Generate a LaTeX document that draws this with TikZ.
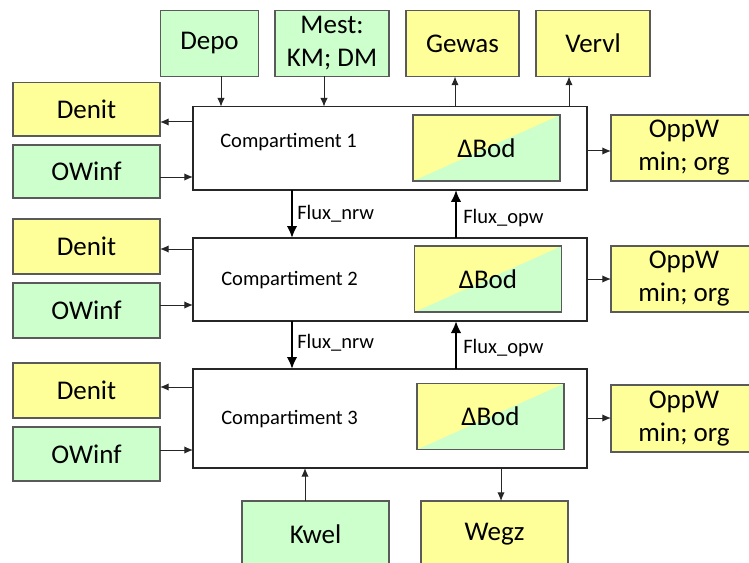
\documentclass[tikz,border=0pt]{standalone}
\usepackage{fontspec}
\setmainfont{Carlito}
\usetikzlibrary{arrows.meta}
\definecolor{yel}{HTML}{FFFF99}
\definecolor{grn}{HTML}{CCFFCC}
\definecolor{edge}{HTML}{5A5A5A}
\newcommand\bigf{\fontsize{20.25}{24.75}\selectfont}
\newcommand\smallf{\fontsize{15.4}{18}\selectfont}
\begin{document}
\begin{tikzpicture}[x=0.75pt,y=-0.75pt,
  box/.style 2 args={draw=edge, line width=0.9pt, inner sep=0pt, outer sep=0pt,
    minimum width=#1*0.75pt, minimum height=#2*0.75pt, align=center, font=\bigf},
  ybox/.style 2 args={box={#1}{#2}, fill=yel},
  gbox/.style 2 args={box={#1}{#2}, fill=grn},
  compbox/.style={draw=black!85, line width=0.9pt, fill=white, inner sep=0pt, outer sep=0pt,
    minimum width=394*0.75pt, minimum height=#1*0.75pt},
  bod/.style={box={147}{66}, fill=grn, path picture={\fill[yel] (path picture bounding box.south west) -- (path picture bounding box.north west) -- (path picture bounding box.north east) -- cycle;}},
  arr/.style={-{Latex[length=6.5pt,width=5.5pt]}, line width=0.75pt, draw=black!85},
  fluxarr/.style={-{Latex[length=9pt,width=8pt]}, line width=2.2pt, draw=black},
  lbl/.style={font=\smallf, inner sep=0pt, anchor=base west}
]
\useasboundingbox (0,0) rectangle (749,563);
\clip (0,0) rectangle (749,563);

% compartments
\node[compbox=83.3] (C1) at (390,148.3) {};
\node[compbox=83] (C2) at (390,279.5) {};
\node[compbox=99] (C3) at (390,418.5) {};
\node[lbl] (L1) at (220,148) {Compartiment 1};
\node[lbl] (L2) at (221,285) {Compartiment 2};
\node[lbl] (L3) at (221,424) {Compartiment 3};

% Delta Bod
\node[bod] (B1) at (486.5,148) {ΔBod};
\node[bod] (B2) at (488,279) {ΔBod};
\node[bod] (B3) at (490.5,416.5) {ΔBod};

% top boxes
\node[gbox={98}{66}] (Depo) at (209.5,43.5) {Depo};
\node[gbox={114}{66}] (Mest) at (332,43.5) {Mest:\\KM; DM};
\node[ybox={113}{66}] (Gewas) at (462.5,43.5) {Gewas};
\node[ybox={114}{66}] (Vervl) at (593,43.5) {Vervl};

% left boxes
\node[ybox={147}{53.5}] (D1) at (86.5,109.3) {Denit};
\node[gbox={147}{53}] (O1) at (86.5,171.5) {OWinf};
\node[ybox={147}{55}] (D2) at (86.5,246.5) {Denit};
\node[gbox={147}{55}] (O2) at (86.5,310.5) {OWinf};
\node[ybox={147}{55}] (D3) at (86.5,390.5) {Denit};
\node[gbox={147}{54}] (O3) at (86.5,454) {OWinf};

% right boxes
\node[ybox={146}{66}] (P1) at (684,148) {OppW\\min; org};
\node[ybox={146}{66}] (P2) at (684,279) {OppW\\min; org};
\node[ybox={146}{67}] (P3) at (684,418.5) {OppW\\min; org};

% bottom boxes
\node[gbox={147}{66}] (Kwel) at (315.5,534) {Kwel};
\node[ybox={147}{66}] (Wegz) at (494.5,534) {Wegz};

% top arrows
\draw[arr] (Depo.south -| 221,0) -- (C1.north -| 221,0);
\draw[arr] (Mest.south -| 324,0) -- (C1.north -| 324,0);
\draw[arr] (C1.north -| 455,0) -- (Gewas.south -| 455,0);
\draw[arr] (C1.north -| 569,0) -- (Vervl.south -| 569,0);

% left arrows
\draw[arr] (C1.west |- 0,122) -- (D1.east |- 0,122);
\draw[arr] (O1.east |- 0,177) -- (C1.west |- 0,177);
\draw[arr] (C2.west |- 0,249) -- (D2.east |- 0,249);
\draw[arr] (O2.east |- 0,305) -- (C2.west |- 0,305);
\draw[arr] (C3.west |- 0,387) -- (D3.east |- 0,387);
\draw[arr] (O3.east |- 0,450) -- (C3.west |- 0,450);

% right arrows
\draw[arr] (C1.east |- 0,151) -- (P1.west |- 0,151);
\draw[arr] (C2.east |- 0,279) -- (P2.west |- 0,279);
\draw[arr] (C3.east |- 0,418) -- (P3.west |- 0,418);

% bottom arrows
\draw[arr] (Kwel.north -| 305,0) -- (C3.south -| 305,0);
\draw[arr] (C3.south -| 501,0) -- (Wegz.north -| 501,0);

% fluxes
\draw[fluxarr] (C1.south -| 292,0) -- (C2.north -| 292,0);
\draw[fluxarr] (C2.north -| 456,0) -- (C1.south -| 456,0);
\draw[fluxarr] (C2.south -| 292,0) -- (C3.north -| 292,0);
\draw[fluxarr] (C3.north -| 456,0) -- (C2.south -| 456,0);
\node[lbl] (FN1) at (297,219) {Flux\_nrw};
\node[lbl] (FO1) at (463,223) {Flux\_opw};
\node[lbl] (FN2) at (297,348) {Flux\_nrw};
\node[lbl] (FO2) at (463,353) {Flux\_opw};
\end{tikzpicture}
\end{document}
